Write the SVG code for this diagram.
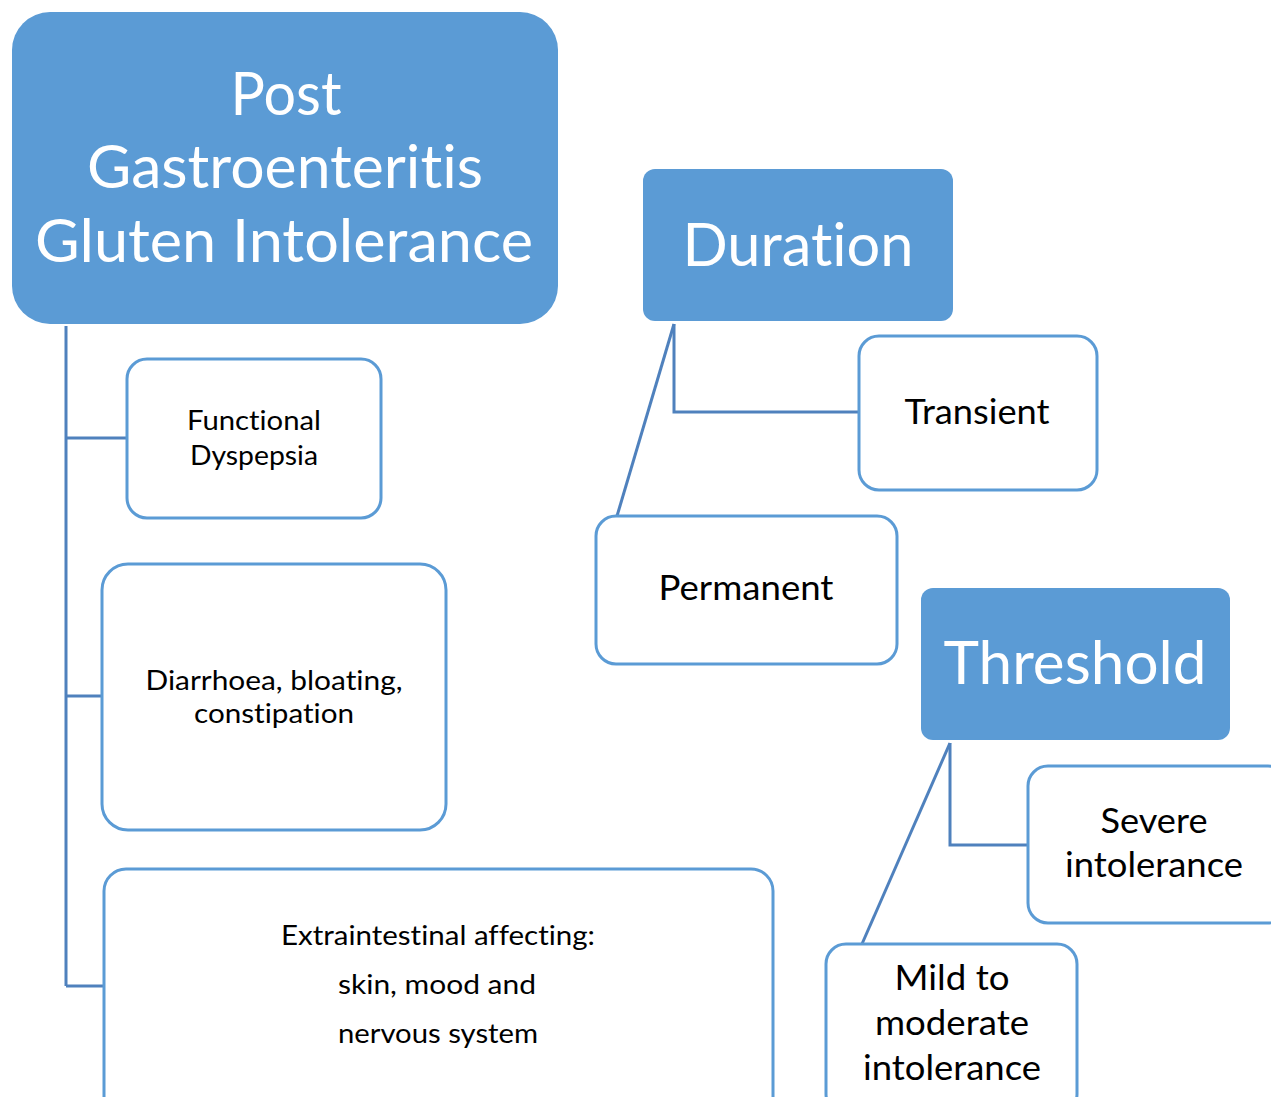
<svg xmlns="http://www.w3.org/2000/svg" width="1271" height="1097" viewBox="0 0 1271 1097">
<style>
.hdr{fill:#5b9bd5}
.box{fill:#ffffff;stroke:#5b9bd5;stroke-width:3}
text{font-variant-ligatures:none;font-feature-settings:"liga" 0,"dlig" 0}
.ht{fill:#ffffff;font-family:Lato,"Open Sans",sans-serif;text-anchor:middle}
.bt{fill:#000000;font-family:Lato,"Open Sans",sans-serif;text-anchor:middle}
.con{fill:none;stroke:#4f81bd;stroke-width:3}
.fade{fill:none;stroke:#c9d9ee;stroke-width:2}
</style>
<rect width="1271" height="1097" fill="#ffffff"/>
<g id="connectors">
<path class="con" d="M66 326 V986 M66 438 H127 M66 696 H102 M66 986 H104"/>
<path class="con" d="M674 324 V412 H859"/>
<path class="con" d="M674 324 L617 516" stroke-width="2.5"/>
<path class="fade" d="M617 516 L598 577"/>
<path class="con" d="M950 743 V845 H1028"/>
<path class="con" d="M950 743 L862 944" stroke-width="2.5"/>
<path class="fade" d="M862 944 L829 1018"/>
</g>
<g id="main">
<rect class="hdr" x="12" y="12" width="546" height="312" rx="38"/>
<text class="ht" x="286" y="115" font-size="60" textLength="111" lengthAdjust="spacingAndGlyphs">Post</text>
<text class="ht" x="285" y="188" font-size="60" textLength="396" lengthAdjust="spacingAndGlyphs">Gastroenteritis</text>
<text class="ht" x="284" y="262" font-size="60" textLength="498" lengthAdjust="spacingAndGlyphs">Gluten Intolerance</text>
</g>
<g id="duration">
<rect class="hdr" x="643" y="169" width="310" height="152" rx="12"/>
<text class="ht" x="798" y="266" font-size="60" textLength="231" lengthAdjust="spacingAndGlyphs">Duration</text>
</g>
<g id="threshold">
<rect class="hdr" x="921" y="588" width="309" height="152" rx="12"/>
<text class="ht" x="1075" y="684" font-size="60" textLength="263" lengthAdjust="spacingAndGlyphs">Threshold</text>
</g>
<g id="transient">
<rect class="box" x="859" y="336" width="238" height="154" rx="20"/>
<text class="bt" x="977" y="424" font-size="34" textLength="145" lengthAdjust="spacingAndGlyphs">Transient</text>
</g>
<g id="permanent">
<rect class="box" x="596" y="516" width="301" height="148" rx="20"/>
<text class="bt" x="746" y="600" font-size="34" textLength="175" lengthAdjust="spacingAndGlyphs">Permanent</text>
</g>
<g id="severe">
<rect class="box" x="1028" y="766" width="260" height="157" rx="20"/>
<text class="bt" x="1154" y="833" font-size="34" textLength="107" lengthAdjust="spacingAndGlyphs">Severe</text>
<text class="bt" x="1154" y="877" font-size="34" textLength="178" lengthAdjust="spacingAndGlyphs">intolerance</text>
</g>
<g id="mild">
<rect class="box" x="826" y="944" width="251" height="170" rx="20"/>
<text class="bt" x="952" y="990" font-size="34" textLength="115" lengthAdjust="spacingAndGlyphs">Mild to</text>
<text class="bt" x="952" y="1035" font-size="34" textLength="154" lengthAdjust="spacingAndGlyphs">moderate</text>
<text class="bt" x="952" y="1080" font-size="34" textLength="178" lengthAdjust="spacingAndGlyphs">intolerance</text>
</g>
<g id="functional">
<rect class="box" x="127" y="359" width="254" height="159" rx="20"/>
<text class="bt" x="254" y="430" font-size="27" textLength="134" lengthAdjust="spacingAndGlyphs">Functional</text>
<text class="bt" x="254" y="465" font-size="27" textLength="128" lengthAdjust="spacingAndGlyphs">Dyspepsia</text>
</g>
<g id="diarrhoea">
<rect class="box" x="102" y="564" width="344" height="266" rx="26"/>
<text class="bt" x="274" y="690" font-size="27" textLength="257" lengthAdjust="spacingAndGlyphs">Diarrhoea, bloating,</text>
<text class="bt" x="274" y="723" font-size="27" textLength="160" lengthAdjust="spacingAndGlyphs">constipation</text>
</g>
<g id="extraintestinal">
<rect class="box" x="104" y="869" width="669" height="250" rx="22"/>
<text class="bt" x="438" y="945" font-size="27" textLength="314" lengthAdjust="spacingAndGlyphs">Extraintestinal affecting:</text>
<text class="bt" x="437" y="994" font-size="27" textLength="198" lengthAdjust="spacingAndGlyphs">skin, mood and</text>
<text class="bt" x="438" y="1043" font-size="27" textLength="200" lengthAdjust="spacingAndGlyphs">nervous system</text>
</g>
</svg>
